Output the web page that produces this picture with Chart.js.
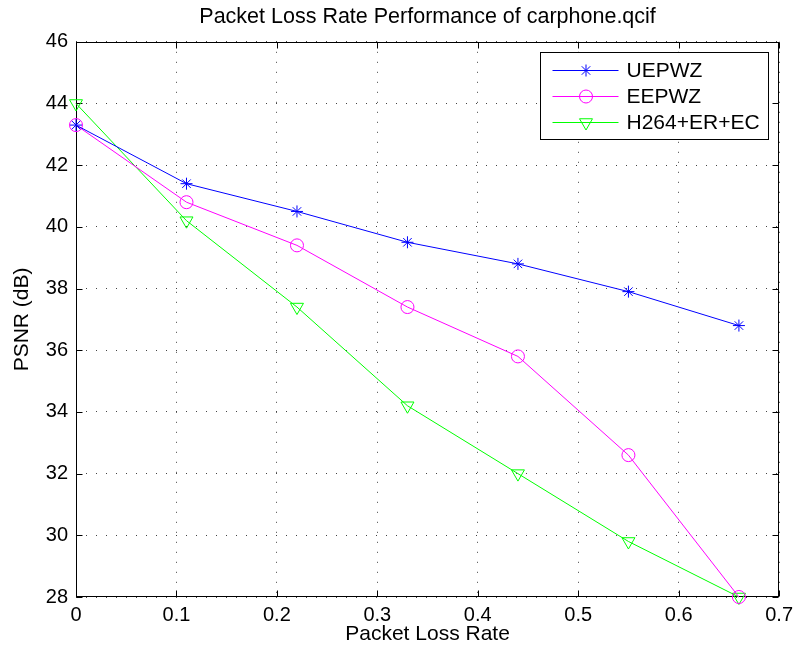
<!DOCTYPE html>
<html>
<head>
<meta charset="utf-8">
<title>Packet Loss Rate Performance of carphone.qcif</title>
<script src="https://cdn.jsdelivr.net/npm/chart.js@4.4.1/dist/chart.umd.min.js"></script>
<style>
  body { margin: 0; background: #fff; }
  #wrap { width: 799px; height: 655px; }
</style>
</head>
<body>
<div id="wrap"><canvas id="grafico" width="799" height="655"></canvas></div>
<script>
// Dados
const taxaPerda = [0, 0.11, 0.22, 0.33, 0.44, 0.55, 0.66];
const psnrUEPWZ = [43.3, 41.4, 40.5, 39.5, 38.8, 37.9, 36.8];
const psnrEEPWZ = [43.3, 40.8, 39.4, 37.4, 35.8, 32.6, 28.0];
const psnrH264 = [44.0, 40.2, 37.4, 34.2, 32.0, 29.8, 28.0];
const ticksX = [0, 0.1, 0.2, 0.3, 0.4, 0.5, 0.6, 0.7];
const ticksY = [28, 30, 32, 34, 36, 38, 40, 42, 44, 46];

const fonte = '"Liberation Sans", Arial, Helvetica, sans-serif';

function serie(label, valores, cor, estilo, raio, rot) {
    return {
        label,
        data: taxaPerda.map((x, i) => ({ x, y: valores[i] })),
        borderColor: cor,
        backgroundColor: cor,
        borderWidth: 1,
        pointStyle: estilo,
        pointRadius: raio,
        pointHoverRadius: raio,
        pointRotation: rot,
        pointBorderColor: cor,
        pointBackgroundColor: 'rgba(0,0,0,0)',
        pointBorderWidth: 1,
        tension: 0,
        clip: false
    };
}

// Moldura da área do gráfico com marcas para dentro (estilo MATLAB)
const moldura = {
    id: 'moldura',
    beforeDatasetsDraw(chart) {
        const { ctx, chartArea: a, scales: { x, y } } = chart;
        const L = Math.round(a.left) + 0.5, R = Math.round(a.right) - 0.5;
        const T = Math.round(a.top) + 0.5, B = Math.round(a.bottom) - 0.5;
        ctx.save();
        ctx.strokeStyle = '#000';
        ctx.lineWidth = 1;
        ctx.beginPath();
        ticksX.forEach(v => {
            const px = Math.round(x.getPixelForValue(v)) + 0.5;
            ctx.moveTo(px, B); ctx.lineTo(px, B - 6);
            ctx.moveTo(px, T); ctx.lineTo(px, T + 6);
        });
        ticksY.forEach(v => {
            const py = Math.round(y.getPixelForValue(v)) + 0.5;
            ctx.moveTo(L, py); ctx.lineTo(L + 6, py);
            ctx.moveTo(R, py); ctx.lineTo(R - 6, py);
        });
        ctx.stroke();
        ctx.strokeRect(L, T, R - L, B - T);
        ctx.restore();
    }
};

// Legenda dentro do gráfico, canto superior direito
const legenda = {
    id: 'legenda',
    afterDatasetsDraw(chart) {
        const { ctx, chartArea: a } = chart;
        const w = 228, h = 87;
        const bx = Math.round(a.right - 11 - w) + 0.5, by = Math.round(a.top + 10) + 0.5;
        ctx.save();
        ctx.fillStyle = '#fff';
        ctx.fillRect(bx, by, w, h);
        ctx.strokeStyle = '#000';
        ctx.lineWidth = 1;
        ctx.strokeRect(bx, by, w, h);
        chart.data.datasets.forEach((ds, i) => {
            const cy = Math.round(by + 17 + i * 26) + 0.5;
            ctx.strokeStyle = ds.borderColor;
            ctx.lineWidth = 1;
            ctx.beginPath();
            ctx.moveTo(bx + 12, cy);
            ctx.lineTo(bx + 78, cy);
            ctx.stroke();
            ctx.fillStyle = 'rgba(0,0,0,0)';
            Chart.helpers.drawPoint(ctx, {
                pointStyle: ds.pointStyle,
                radius: ds.pointRadius,
                rotation: ds.pointRotation,
                borderWidth: 1
            }, bx + 45.5, cy);
            ctx.fillStyle = '#000';
            ctx.font = '21px ' + fonte;
            ctx.textBaseline = 'middle';
            ctx.textAlign = 'left';
            ctx.fillText(ds.label, bx + 86, cy + 1);
        });
        ctx.restore();
    }
};

new Chart(document.getElementById('grafico'), {
    type: 'line',
    data: {
        datasets: [
            serie('UEPWZ', psnrUEPWZ, '#0000ff', 'star', 6, 0),
            serie('EEPWZ', psnrEEPWZ, '#ff00ff', 'circle', 6.5, 0),
            serie('H264+ER+EC', psnrH264, '#00ff00', 'triangle', 7.5, 180)
        ]
    },
    options: {
        responsive: false,
        animation: false,
        events: [],
        layout: { padding: { left: 0, right: 19, top: 0, bottom: 0 } },
        plugins: {
            legend: { display: false },
            tooltip: { enabled: false },
            title: {
                display: true,
                fullSize: false,
                text: 'Packet Loss Rate Performance of carphone.qcif',
                color: '#000',
                font: { size: 21.5, weight: 'normal', family: fonte },
                padding: { top: 4, bottom: 12 }
            }
        },
        scales: {
            x: {
                type: 'linear',
                min: 0,
                max: 0.7,
                afterBuildTicks: s => { s.ticks = ticksX.map(v => ({ value: v })); },
                afterFit: s => { s.height = 58; },
                grid: { color: '#444', lineWidth: 1, drawTicks: false },
                border: { display: false, dash: [1, 9] },
                ticks: {
                    color: '#000',
                    font: { size: 20, family: fonte },
                    padding: 6,
                    maxRotation: 0,
                    callback: v => String(v)
                },
                title: {
                    display: true,
                    text: 'Packet Loss Rate',
                    color: '#000',
                    font: { size: 21, family: fonte },
                    padding: { top: 0, bottom: 8 }
                }
            },
            y: {
                min: 28,
                max: 46,
                afterBuildTicks: s => { s.ticks = ticksY.map(v => ({ value: v })); },
                afterFit: s => { s.width = 76; },
                grid: { color: '#444', lineWidth: 1, drawTicks: false },
                border: { display: false, dash: [1, 9] },
                ticks: {
                    color: '#000',
                    font: { size: 20, family: fonte },
                    padding: 8,
                    callback: v => String(v)
                },
                title: {
                    display: true,
                    text: 'PSNR (dB)',
                    color: '#000',
                    font: { size: 21, family: fonte },
                    padding: { top: 10, bottom: 0 }
                }
            }
        }
    },
    plugins: [moldura, legenda]
});
</script>
</body>
</html>
